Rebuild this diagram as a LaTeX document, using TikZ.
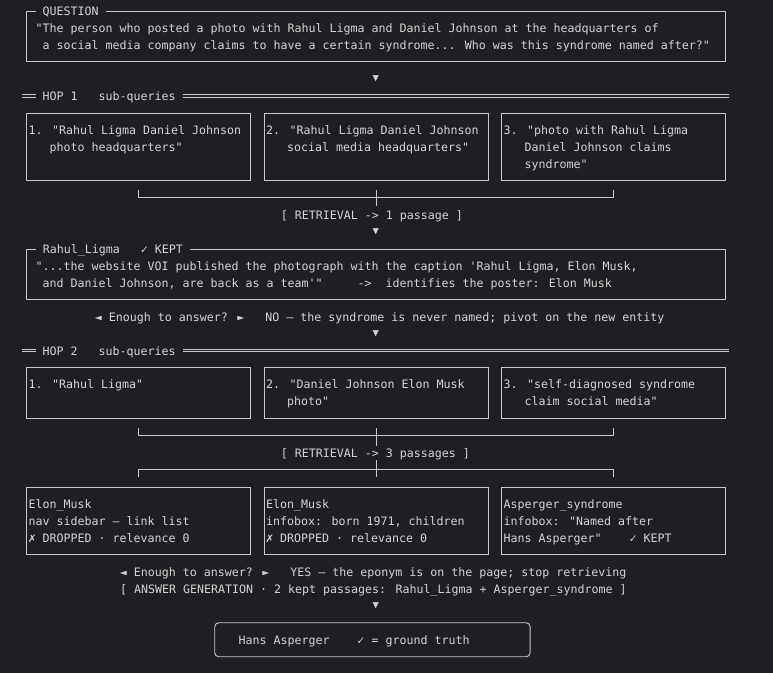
\documentclass[tikz,border=0pt]{standalone}
\usepackage{fontspec}
\newfontfamily\mono{DejaVu Sans Mono}[Ligatures=TeXOff]
\newfontfamily\symfont{DejaVu Sans}
\definecolor{bg}{RGB}{30,31,34}
\definecolor{fg}{RGB}{212,212,212}
\definecolor{edge}{RGB}{200,200,200}
\newcommand{\keptmark}{\makebox[7pt]{\symfont\fontsize{10.5}{10}\selectfont ✓}}
\newcommand{\dropmark}{\makebox[7pt]{\symfont\fontsize{10.5}{10}\selectfont ✗}}

\begin{document}
\begin{tikzpicture}[x=1pt,y=-1pt,
    every node/.style={font=\mono\fontsize{11.63}{17}\selectfont, text=fg, inner sep=0pt},
    txt/.style={anchor=base west, align=left},
    headtxt/.style={anchor=base west, fill=bg, inner xsep=7pt, inner ysep=2pt},
    frame/.style={draw=edge, line width=0.9pt, anchor=north west},
    hopline/.style={draw=edge, line width=0.9pt, double=bg, double distance=1.8pt},
    rail/.style={draw=edge, line width=0.9pt},
    arr/.style={font=\mono\fontsize{10.5}{10}\selectfont}]
    \fill[bg] (0,0) rectangle (773,673);
    \useasboundingbox (0,0) rectangle (773,673);

    % question (base of a multi-line node = its last line)
    \node[frame, minimum width=699pt, minimum height=50pt] (Q) at (26,11) {};
    \node[headtxt] (Qh) at (35.3,15) {QUESTION};
    \node[txt] (Qt) at ([shift={(9.3,38.3)}]Q.north west) {"The person who posted a photo with Rahul Ligma and Daniel Johnson at the headquarters of\\~a social media company claims to have a certain syndrome... Who was this syndrome named after?"};
    \node[arr] (D1) at (375.7,78.7) {▼};

    % hop 1
    \coordinate (H1l) at (22,95.7);
    \coordinate (H1r) at (729,95.7);
    \draw[hopline] (H1l) -- (H1r);
    \node[headtxt] (H1) at (35.3,100) {HOP 1~~~sub-queries};

    \node[frame, minimum width=224pt, minimum height=67pt] (A1) at (26,113) {};
    \node[frame, minimum width=224pt, minimum height=67pt] (A2) at (263.5,113) {};
    \node[frame, minimum width=224pt, minimum height=67pt] (A3) at (501,113) {};
    \node[txt] (A1t) at ([shift={(2.5,38)}]A1.north west) {1. "Rahul Ligma Daniel Johnson\\~~~photo headquarters"};
    \node[txt] (A2t) at ([shift={(2.5,38)}]A2.north west) {2. "Rahul Ligma Daniel Johnson\\~~~social media headquarters"};
    \node[txt] (A3t) at ([shift={(2.5,55)}]A3.north west) {3. "photo with Rahul Ligma\\~~~Daniel Johnson claims\\~~~syndrome"};

    \draw[rail] ([yshift=-9pt]A1.south) |- ([yshift=-17pt]A3.south) -- ([yshift=-9pt]A3.south);
    \draw[rail] ([yshift=-9pt]A2.south) -- ([yshift=-25pt]A2.south);
    \node[txt] (R1) at (280.7,219) {[ RETRIEVAL -> 1 passage ]};
    \node[arr] (D2) at (375.7,231.7) {▼};

    % passage of hop 1
    \node[frame, minimum width=699pt, minimum height=50pt] (P) at (26,249) {};
    \node[headtxt] (Ph) at (35.7,253) {Rahul\_Ligma~~~\keptmark{} KEPT};
    \node[txt] (Pt) at ([shift={(9.3,38)}]P.north west) {"...the website VOI published the photograph with the caption 'Rahul Ligma, Elon Musk,\\~and Daniel Johnson, are back as a team'"~~~~~->~~identifies the poster: Elon Musk};

    \node[txt] (E1) at (94.7,321) {◄ Enough to answer? ►~~~NO — the syndrome is never named; pivot on the new entity};
    \node[arr] (D3) at (375.7,333.3) {▼};

    % hop 2
    \coordinate (H2l) at (22,350.5);
    \coordinate (H2r) at (729,350.5);
    \draw[hopline] (H2l) -- (H2r);
    \node[headtxt] (H2) at (35.3,355) {HOP 2~~~sub-queries};

    \node[frame, minimum width=224pt, minimum height=51pt] (B1) at (26,367) {};
    \node[frame, minimum width=224pt, minimum height=51pt] (B2) at (263.5,367) {};
    \node[frame, minimum width=224pt, minimum height=51pt] (B3) at (501,367) {};
    \node[txt] (B1t) at ([shift={(2.5,21.5)}]B1.north west) {1. "Rahul Ligma"};
    \node[txt] (B2t) at ([shift={(2.5,38.5)}]B2.north west) {2. "Daniel Johnson Elon Musk\\~~~photo"};
    \node[txt] (B3t) at ([shift={(2.5,38.5)}]B3.north west) {3. "self-diagnosed syndrome\\~~~claim social media"};

    \draw[rail] ([yshift=-9pt]B1.south) |- ([yshift=-17pt]B3.south) -- ([yshift=-9pt]B3.south);
    \draw[rail] ([yshift=-9pt]B2.south) -- ([yshift=-27pt]B2.south);
    \node[txt] (R2) at (280.7,457) {[ RETRIEVAL -> 3 passages ]};

    % passages of hop 2
    \node[frame, minimum width=224pt, minimum height=67pt] (C1) at (26,487) {};
    \node[frame, minimum width=224pt, minimum height=67pt] (C2) at (263.5,487) {};
    \node[frame, minimum width=224pt, minimum height=67pt] (C3) at (501,487) {};
    \draw[rail] ([yshift=10pt]C1.north) |- ([yshift=18pt]C3.north) -- ([yshift=10pt]C3.north);
    \draw[rail] ([yshift=10pt]C2.north) -- ([yshift=27pt]C2.north);
    \node[txt] (C1t) at ([shift={(2.5,55)}]C1.north west) {Elon\_Musk\\nav sidebar — link list\\\dropmark{} DROPPED · relevance 0};
    \node[txt] (C2t) at ([shift={(2.5,55)}]C2.north west) {Elon\_Musk\\infobox: born 1971, children\\\dropmark{} DROPPED · relevance 0};
    \node[txt] (C3t) at ([shift={(2.5,55)}]C3.north west) {Asperger\_syndrome\\infobox: "Named after\\Hans Asperger"~~~~\keptmark{} KEPT};

    \node[txt] (E2) at (119.7,576) {◄ Enough to answer? ►~~~YES — the eponym is on the page; stop retrieving};
    \node[txt] (G) at (120,593) {[ ANSWER GENERATION · 2 kept passages: Rahul\_Ligma + Asperger\_syndrome ]};
    \node[arr] (D4) at (375.7,605.3) {▼};

    % answer
    \node[frame, rounded corners=4pt, minimum width=315.4pt, minimum height=34pt] (F) at (214.3,622.3) {};
    \node[txt] (Ft) at (238.3,644) {Hans Asperger~~~~\keptmark{} = ground truth};
\end{tikzpicture}
\end{document}
